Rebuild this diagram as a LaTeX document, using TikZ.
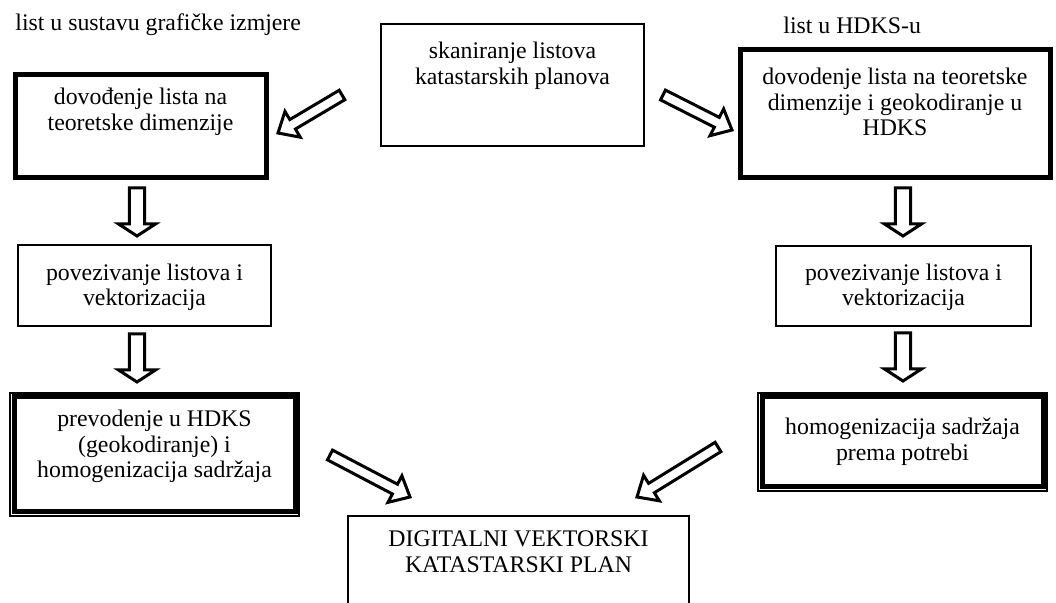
\documentclass[tikz,border=0pt]{standalone}
\usepackage{fontspec}
\setmainfont{Liberation Serif}
\usetikzlibrary{calc}

\newcommand{\boxfont}{\fontsize{11.9pt}{12.8pt}\selectfont}
% hollow block arrow: tail, tip, half shaft, half head, head length
\newcommand{\hollowarrow}[5]{%
  \draw[blockarrow] ($(#1)!#3!90:(#2)$)
    -- ($(#2)!#5!(#1)!#3!-90:(#1)$)
    -- ($(#2)!#5!(#1)!#4!-90:(#1)$)
    -- (#2)
    -- ($(#2)!#5!(#1)!#4!90:(#1)$)
    -- ($(#2)!#5!(#1)!#3!90:(#1)$)
    -- ($(#1)!#3!-90:(#2)$) -- cycle;}

\begin{document}
\begin{tikzpicture}[x=0.5pt, y=-0.5pt,
    plain/.style={shape=rectangle, draw=black, line width=1pt},
    heavy/.style={shape=rectangle, draw=black, line width=2.5pt},
    frame/.style={draw=black, line width=0.7pt},
    lab/.style={anchor=north, align=center, font=\boxfont},
    blockarrow/.style={draw=black, line width=1.5pt, line join=miter}]
    \clip (0,0) rectangle (1056,603);

    \node[anchor=west, inner sep=0pt, font=\boxfont] at (15,25) (hleft) {list u sustavu grafičke izmjere};
    \node[anchor=west, inner sep=0pt, font=\boxfont] at (783,25) (hright) {list u HDKS-u};

    \node[plain, minimum width=131.5pt, minimum height=61pt,
      label={[lab, yshift=-6pt]north:{skaniranje listova\\katastarskih planova}}] at (512.5,85) (scan) {};
    \node[heavy, minimum width=125.5pt, minimum height=51.5pt,
      label={[lab, yshift=-4.3pt]north:{dovođenje lista na\\teoretske dimenzije}}] at (140.5,126.5) (ltop) {};
    \node[heavy, minimum width=155pt, minimum height=64pt,
      label={[lab, yshift=-6.8pt]north:{dovodenje lista na teoretske\\dimenzije i geokodiranje u\\HDKS}}] at (895,114) (rtop) {};
    \node[plain, minimum width=126.5pt, minimum height=40.5pt,
      label={[lab, yshift=-6.3pt]north:{povezivanje listova i\\vektorizacija}}] at (144.5,285.5) (lmid) {};
    \node[plain, minimum width=127.5pt, minimum height=40pt,
      label={[lab, yshift=-5.8pt]north:{povezivanje listova i\\vektorizacija}}] at (903.5,286) (rmid) {};
    \node[heavy, minimum width=140.5pt, minimum height=57.5pt,
      label={[lab, yshift=-4.3pt]north:{prevodenje u HDKS\\(geokodiranje) i\\homogenizacija sadržaja}}] at (154.5,454.5) (lbot) {};
    \node[heavy, minimum width=140.5pt, minimum height=45pt,
      label={[lab, yshift=-8.3pt]north:{homogenizacija sadržaja\\prema potrebi}}] at (902.5,442) (rbot) {};
    \node[plain, minimum width=170.5pt, minimum height=62pt,
      label={[lab, yshift=-4.3pt]north:{DIGITALNI VEKTORSKI\\KATASTARSKI PLAN}}] at (518.5,578) (digital) {};

    % thin outer lines of the double frames
    \draw[frame] ([shift={(-0.8pt,0.8pt)}]lbot.north west) rectangle ([shift={(0.8pt,-0.8pt)}]lbot.south east);
    \draw[frame] ([shift={(-0.8pt,0.8pt)}]rbot.north west) rectangle ([shift={(0.8pt,-0.8pt)}]rbot.south east);

    % block arrows
    \coordinate (a1) at (342,95);  \coordinate (a1t) at (278,133);
    \coordinate (a2) at (663,95);  \coordinate (a2t) at (732,130);
    \coordinate (a3) at (137,188); \coordinate (a3t) at (137,236);
    \coordinate (a4) at (137,334); \coordinate (a4t) at (137,382);
    \coordinate (a5) at (903,188); \coordinate (a5t) at (903,236);
    \coordinate (a6) at (903,333); \coordinate (a6t) at (903,381);
    \coordinate (a7) at (330,455); \coordinate (a7t) at (410,497);
    \coordinate (a8) at (718,447); \coordinate (a8t) at (637,497);
    \hollowarrow{a1}{a1t}{2.75pt}{7.5pt}{8.5pt}
    \hollowarrow{a2}{a2t}{2.75pt}{7.5pt}{8.5pt}
    \hollowarrow{a3}{a3t}{3.85pt}{9.25pt}{6pt}
    \hollowarrow{a4}{a4t}{3.85pt}{9.25pt}{6pt}
    \hollowarrow{a5}{a5t}{3.85pt}{9.25pt}{6pt}
    \hollowarrow{a6}{a6t}{3.85pt}{9.25pt}{6pt}
    \hollowarrow{a7}{a7t}{2.75pt}{7.5pt}{8.5pt}
    \hollowarrow{a8}{a8t}{2.75pt}{7.5pt}{8.5pt}
\end{tikzpicture}
\end{document}
